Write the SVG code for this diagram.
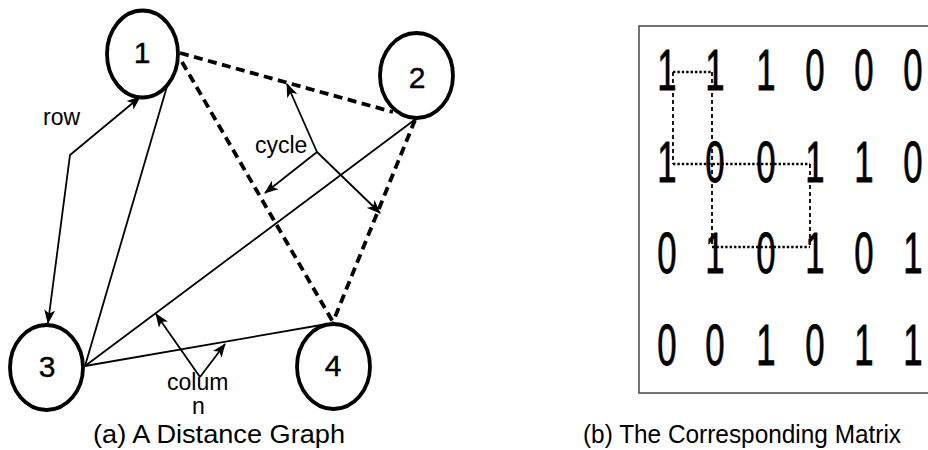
<svg xmlns="http://www.w3.org/2000/svg" width="928" height="450" viewBox="0 0 928 450">
<defs>
<marker id="ah" markerUnits="userSpaceOnUse" markerWidth="14" markerHeight="12" viewBox="0 0 14 12" refX="13" refY="6" orient="auto-start-reverse">
<path d="M0,0.5 L14,6 L0,11.5 L3.5,6 Z" fill="#000"/>
</marker>
<style>
.node{fill:#fff;stroke:#000;stroke-width:3.8}
.num{font-family:"Liberation Sans",Arial,sans-serif;font-size:30px;text-anchor:middle;fill:#000;stroke:#000;stroke-width:0.4}
.edge{fill:none;stroke:#000;stroke-width:1.8}
.dash{fill:none;stroke:#000;stroke-width:3.8;stroke-dasharray:9 5.5}
.ptr{fill:none;stroke:#000;stroke-width:1.8;marker-end:url(#ah)}
.lbl{font-family:"Liberation Sans",Arial,sans-serif;font-size:23px;fill:#000}
.cap{font-family:"Liberation Sans",Arial,sans-serif;font-size:25px;fill:#000}
.md{font-family:"Liberation Sans",Arial,sans-serif;font-size:58px;text-anchor:middle;fill:#000;stroke:#000;stroke-width:0.8}
.vd{fill:none;stroke:#000;stroke-width:1.8;stroke-dasharray:4 3}
.hd{fill:none;stroke:#000;stroke-width:2.6;stroke-dasharray:2.4 2}
</style>
</defs>
<rect width="928" height="450" fill="#fff"/>

<g id="connectors">
<path class="dash" d="M180,53 L393,112"/>
<path class="dash" d="M182,62 L333,322"/>
<path class="dash" d="M415,120 L333,322"/>
<path class="edge" d="M168,83 L85,366"/>
<path class="edge" d="M417,118 L85,366"/>
<path class="edge" d="M85,366 L327,324"/>
<path class="edge" d="M140,97 L70,155 L48,323" marker-start="url(#ah)" marker-end="url(#ah)"/>
<path class="ptr" d="M317,152 L287,84"/>
<path class="ptr" d="M317,152 L265,193"/>
<path class="ptr" d="M317,152 L380,213"/>
<path class="ptr" d="M200,377 L156,314"/>
<path class="ptr" d="M200,377 L225,344"/>
</g>

<g id="node1"><ellipse class="node" cx="142.5" cy="54" rx="35.5" ry="43.5"/><text class="num" x="142" y="63">1</text></g>
<g id="node2"><ellipse class="node" cx="416.5" cy="75.5" rx="36.5" ry="42.5"/><text class="num" x="417" y="88">2</text></g>
<g id="node3"><ellipse class="node" cx="46.5" cy="367.5" rx="36.5" ry="42.5"/><text class="num" x="47" y="377">3</text></g>
<g id="node4"><ellipse class="node" cx="333.5" cy="366.5" rx="36.5" ry="42.5"/><text class="num" x="333" y="376">4</text></g>

<g id="labels">
<text class="lbl" x="43" y="125">row</text>
<text class="lbl" x="255" y="153">cycle</text>
<text class="lbl" x="167" y="390">colum</text>
<text class="lbl" x="192" y="414">n</text>
<text class="cap" x="93" y="443" textLength="252" lengthAdjust="spacingAndGlyphs">(a) A Distance Graph</text>
<text class="cap" x="583" y="443" textLength="318" lengthAdjust="spacingAndGlyphs">(b) The Corresponding Matrix</text>
</g>

<g id="matrix">
<rect x="639" y="26" width="320" height="367" fill="none" stroke="#444" stroke-width="1.5"/>
<g id="grid-digits">
<text class="md" transform="translate(667,90) scale(0.6,1)">1</text>
<text class="md" transform="translate(715,90) scale(0.6,1)">1</text>
<text class="md" transform="translate(766,90) scale(0.6,1)">1</text>
<text class="md" transform="translate(815,90) scale(0.6,1)">0</text>
<text class="md" transform="translate(864,90) scale(0.6,1)">0</text>
<text class="md" transform="translate(913,90) scale(0.6,1)">0</text>
<text class="md" transform="translate(667,182) scale(0.6,1)">1</text>
<text class="md" transform="translate(715,182) scale(0.6,1)">0</text>
<text class="md" transform="translate(766,182) scale(0.6,1)">0</text>
<text class="md" transform="translate(815,182) scale(0.6,1)">1</text>
<text class="md" transform="translate(864,182) scale(0.6,1)">1</text>
<text class="md" transform="translate(913,182) scale(0.6,1)">0</text>
<text class="md" transform="translate(667,273) scale(0.6,1)">0</text>
<text class="md" transform="translate(715,273) scale(0.6,1)">1</text>
<text class="md" transform="translate(766,273) scale(0.6,1)">0</text>
<text class="md" transform="translate(815,273) scale(0.6,1)">1</text>
<text class="md" transform="translate(864,273) scale(0.6,1)">0</text>
<text class="md" transform="translate(913,273) scale(0.6,1)">1</text>
<text class="md" transform="translate(667,365) scale(0.6,1)">0</text>
<text class="md" transform="translate(715,365) scale(0.6,1)">0</text>
<text class="md" transform="translate(766,365) scale(0.6,1)">1</text>
<text class="md" transform="translate(815,365) scale(0.6,1)">0</text>
<text class="md" transform="translate(864,365) scale(0.6,1)">1</text>
<text class="md" transform="translate(913,365) scale(0.6,1)">1</text>
</g>
<g id="matrix-path">
<path class="hd" d="M673,72 L712,72"/>
<path class="hd" d="M673,164 L810,164"/>
<path class="hd" d="M712,247 L810,247"/>
<path class="vd" d="M673,72 L673,164"/>
<path class="vd" d="M712,72 L712,247"/>
<path class="vd" d="M810,164 L810,247"/>
</g>
</g>
</svg>
